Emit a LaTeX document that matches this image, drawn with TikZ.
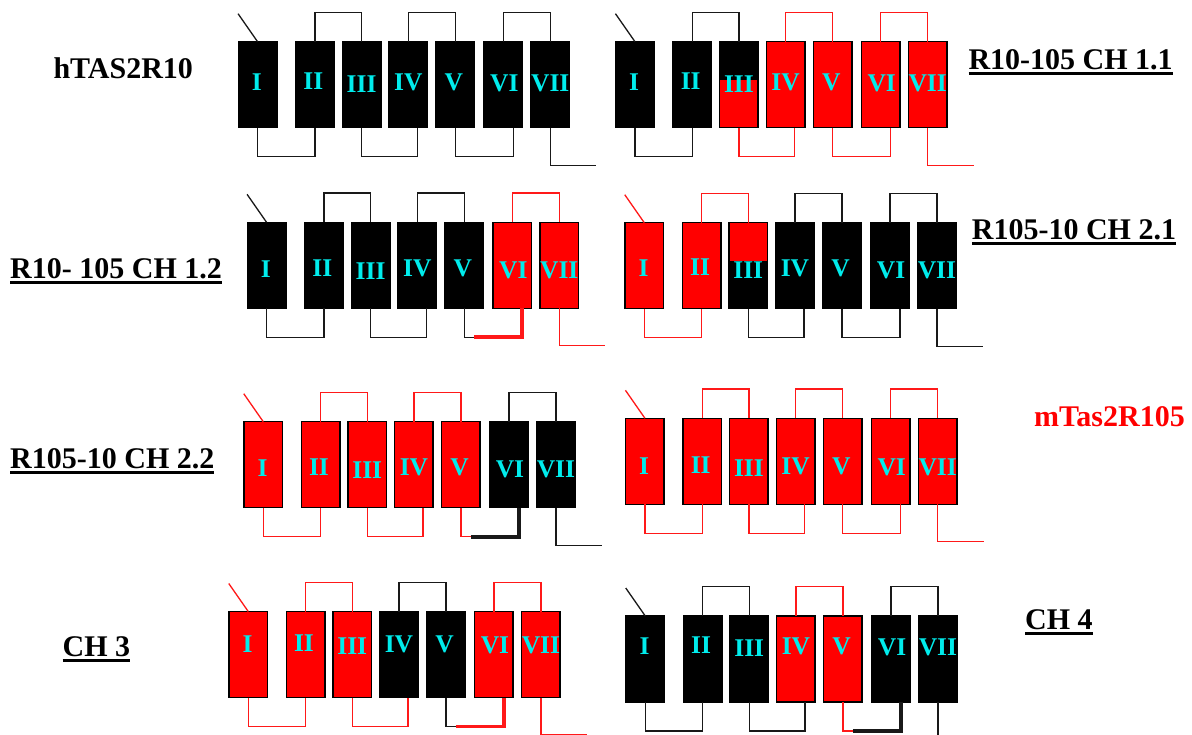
\documentclass[tikz,border=0pt]{standalone}
\usepackage{fontspec}
\setmainfont{Liberation Serif}
\definecolor{bk}{RGB}{0,0,0}
\definecolor{rd}{RGB}{255,0,0}
\definecolor{lk}{RGB}{25,25,25}
\definecolor{lr}{RGB}{255,25,25}
\definecolor{tmcyan}{RGB}{0,236,236}
\newsavebox\ulsave
\newcommand\ulbox[1]{\sbox\ulsave{#1}\rlap{\rule[-5.5pt]{\wd\ulsave}{3pt}}\usebox\ulsave}
\tikzset{
  tmbox/.style={rectangle, minimum width=38.5pt, minimum height=86pt, inner sep=0pt, outer sep=0pt, draw=black, line width=1.5pt},
  conn/.style={line width=1.3pt},
  connthick/.style={line width=3.8pt},
  numlbl/.style={text=tmcyan, font=\fontsize{25.5}{27}\selectfont\bfseries, inner sep=0pt},
  lbltitle/.style={font=\fontsize{30}{32}\selectfont\bfseries, inner sep=0pt, anchor=base west},
}
\begin{document}
\begin{tikzpicture}[x=1pt,y=-1pt]
\useasboundingbox (0,0) rectangle (1192,735);
\fill[white] (0,0) rectangle (1192,735);
\clip (0,0) rectangle (1192,735);
\foreach \p/\x/\y/\ly/\bA/\bB/\bC/\bD/\bE/\bF/\bG/\bT/\lN/\tA/\tB/\tC/\uA/\uB/\uC/\lK/\wK/\lT in {
  d1/238.3/41.7/40.5/bk/bk/bk/bk/bk/bk/bk/bk/lk/lk/lk/lk/lk/lk/lk/lk/conn/lk,
  d2/615.7/41.7/40.5/bk/bk/rd/rd/rd/rd/rd/bk/lk/lk/lr/lr/lk/lr/lr/lr/conn/lr,
  d3/247.3/222.3/46.5/bk/bk/bk/bk/bk/rd/rd/bk/lk/lk/lk/lr/lk/lk/lk/lr/connthick/lr,
  d4/625/222.7/45.7/rd/rd/bk/bk/bk/bk/bk/rd/lr/lr/lk/lk/lr/lk/lk/lk/conn/lk,
  d5/244/421.7/46/rd/rd/rd/rd/rd/bk/bk/rd/lr/lr/lr/lk/lr/lr/lr/lk/connthick/lk,
  d6/625.7/418.3/48/rd/rd/rd/rd/rd/rd/rd/rd/lr/lr/lr/lr/lr/lr/lr/lr/conn/lr,
  d7/229/611.5/32.5/rd/rd/rd/bk/bk/rd/rd/rd/lr/lr/lk/lr/lr/lr/lk/lr/connthick/lr,
  d8/626/616/30/bk/bk/bk/rd/rd/bk/bk/bk/lk/lk/lr/lk/lk/lk/lr/lk/connthick/lk}{
  % helices
  \node[tmbox, fill=\bA] (\p-1) at (\x+19.25, \y+43) {};
  \node[tmbox, fill=\bB] (\p-2) at (\x+76.65, \y+43) {};
  \node[tmbox, fill=\bC, path picture={\fill[\bT] (path picture bounding box.north west) rectangle ([yshift=-38pt]path picture bounding box.north east);}] (\p-3) at (\x+123.25, \y+43) {};
  \node[tmbox, fill=\bD] (\p-4) at (\x+169.95, \y+43) {};
  \node[tmbox, fill=\bE] (\p-5) at (\x+216.95, \y+43) {};
  \node[tmbox, fill=\bF] (\p-6) at (\x+264.95, \y+43) {};
  \node[tmbox, fill=\bG] (\p-7) at (\x+311.95, \y+43) {};
  % numerals
  \node[numlbl] (\p-n1) at (\x+18.5, \y+\ly) {I};
  \node[numlbl] (\p-n2) at (\x+75, \y+\ly-1) {II};
  \node[numlbl] (\p-n3) at (\x+123.25, \y+\ly+2) {III};
  \node[numlbl] (\p-n4) at (\x+169.95, \y+\ly) {IV};
  \node[numlbl] (\p-n5) at (\x+215.5, \y+\ly) {V};
  \node[numlbl] (\p-n6) at (\x+266, \y+\ly+1.5) {VI};
  \node[numlbl] (\p-n7) at (\x+311.95, \y+\ly+1.5) {VII};
  % loops
  \draw[conn, \lN] (\p-1.north) -- ++(-19.5,-28);
  \draw[conn, \tA] (\p-2.north) -- ++(0,-29.3) -| (\p-3.north);
  \draw[conn, \tB] (\p-4.north) -- ++(0,-29.3) -| (\p-5.north);
  \draw[conn, \tC] (\p-6.north) -- ++(0,-29.3) -| (\p-7.north);
  \draw[conn, \uA] (\p-1.south) -- ++(0,29) -| (\p-2.south);
  \draw[conn, \uB] (\p-3.south) -- ++(0,29) -| ([xshift=9pt]\p-4.south);
  \draw[conn, \uC] (\p-5.south) -- ++(0,29) -- ++(10,0) coordinate (\p-k);
  \draw[\wK, \lK] (\p-k) -| ([xshift=10pt]\p-6.south);
  \draw[conn, \lT] (\p-7.south) -- ++(0,37.5) -- ++(46,0);
}
% titles
\node[lbltitle] (t1) at (53.3,78.3) {hTAS2R10};
\node[lbltitle] (t2) at (968.3,69.3) {\ulbox{R10-105 CH 1.1}};
\node[lbltitle] (t3) at (10,279) {\ulbox{R10- 105 CH 1.2}};
\node[lbltitle] (t4) at (971.7,240) {\ulbox{R105-10 CH 2.1}};
\node[lbltitle] (t5) at (10,468) {\ulbox{R105-10 CH 2.2}};
\node[lbltitle, text=rd] (t6) at (1034,426) {mTas2R105};
\node[lbltitle] (t7) at (62.4,656.7) {\ulbox{CH 3}};
\node[lbltitle] (t8) at (1025,629) {\ulbox{CH 4}};
\end{tikzpicture}
\end{document}
